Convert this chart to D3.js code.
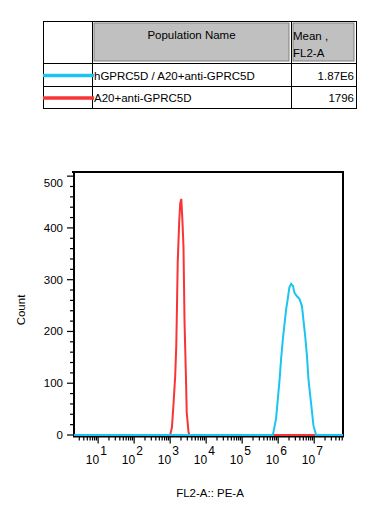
<!DOCTYPE html>
<html><head><meta charset="utf-8">
<script src="https://cdn.jsdelivr.net/npm/d3@7"></script>
<style>body{margin:0;background:#fff}svg{display:block;font-family:"Liberation Sans",Arial,sans-serif}</style>
</head><body><svg id="c" width="387" height="517"></svg>
<script>
// ---- data ----
const populations = ["hGPRC5D / A20+anti-GPRC5D", "A20+anti-GPRC5D"];
const means = ["1.87E6", "1796"];
const colors = ["#1cc4f0", "#f83434"];
const yTicks = [0, 100, 200, 300, 400, 500];
const xDecades = [1, 2, 3, 4, 5, 6, 7];
// histogram samples: log10(FL2-A) and count
const redLog =   [0.33, 3.00, 3.05, 3.09, 3.14, 3.17, 3.19, 3.21, 3.25, 3.28, 3.31, 3.34, 3.37, 3.40, 3.44, 3.46, 3.51, 3.53, 7.80];
const redCount = [0,    0,    15,   56,   114,  172,  249,  333,  410,  448,  456,  415,  364,  217,  108,  44,   6,    0,    0];
const blueLog =   [0.33, 5.85, 5.87, 5.94, 5.99, 6.04, 6.08, 6.13, 6.18, 6.22, 6.27, 6.31, 6.36, 6.41, 6.45, 6.52, 6.59, 6.66, 6.70, 6.75, 6.80, 6.84, 6.89, 6.94, 6.98, 7.03, 7.05, 7.80];
const blueCount = [0,    0,    6,    31,   69,   108,  146,  185,  217,  242,  265,  285,  292,  288,  275,  268,  263,  249,  223,  191,  152,  108,  76,   44,   18,   6,    0,    0];

const svg = d3.select("#c");

// ---- legend table ----
const T = {x0: 43, x1: 92, x2: 291, x3: 356, y0: 21, y1: 63, y2: 86, y3: 108};
svg.append("rect").attr("x", T.x1 + 2).attr("y", T.y0 + 2).attr("width", T.x2 - T.x1 - 4).attr("height", T.y1 - T.y0 - 4)
  .attr("fill", "#c0c0c0").attr("stroke", "#808080").attr("stroke-width", 1);
svg.append("rect").attr("x", T.x2 + 2).attr("y", T.y0 + 2).attr("width", T.x3 - T.x2 - 4).attr("height", T.y1 - T.y0 - 4)
  .attr("fill", "#c0c0c0").attr("stroke", "#808080").attr("stroke-width", 1);
const tl = svg.append("g").attr("stroke", "#000").attr("stroke-width", 1).attr("fill", "none");
tl.append("rect").attr("x", T.x0 + 0.5).attr("y", T.y0 + 0.5).attr("width", T.x3 - T.x0).attr("height", T.y3 - T.y0);
[T.y1, T.y2].forEach(y => tl.append("line").attr("x1", T.x0).attr("x2", T.x3).attr("y1", y + 0.5).attr("y2", y + 0.5));
[T.x1, T.x2].forEach(x => tl.append("line").attr("x1", x + 0.5).attr("x2", x + 0.5).attr("y1", T.y0).attr("y2", T.y3));
svg.append("text").attr("x", (T.x1 + T.x2) / 2).attr("y", 39).attr("text-anchor", "middle").attr("font-size", 11.5).text("Population Name");
svg.append("text").attr("x", T.x2 + 2).attr("y", 40).attr("font-size", 11.5).text("Mean ,");
svg.append("text").attr("x", T.x2 + 2).attr("y", 57).attr("font-size", 11.5).text("FL2-A");
const rowY = [(T.y1 + T.y2) / 2, (T.y2 + T.y3) / 2];
populations.forEach((p, i) => {
  svg.append("line").attr("x1", T.x0).attr("x2", T.x1 + 2).attr("y1", rowY[i] + 1).attr("y2", rowY[i] + 1)
    .attr("stroke", colors[i]).attr("stroke-width", 3.5);
  svg.append("text").attr("x", T.x1 + 2).attr("y", rowY[i] + 5).attr("font-size", 11.5).text(p);
  svg.append("text").attr("x", T.x3 - 2).attr("y", rowY[i] + 5).attr("font-size", 11.5).attr("text-anchor", "end").text(means[i]);
});

// ---- chart ----
const P = {l: 74, r: 343, t: 172, b: 436.5};
const x = d3.scaleLog().domain([Math.pow(10, 0.33), Math.pow(10, 7.8)]).range([P.l, P.r]);
const y = d3.scaleLinear().domain([0, 508]).range([435, P.t]);

// frame
svg.append("rect").attr("x", P.l).attr("y", P.t).attr("width", P.r - P.l).attr("height", P.b - P.t)
  .attr("fill", "none").attr("stroke", "#000").attr("stroke-width", 2);
svg.append("line").attr("x1", P.l - 2).attr("x2", P.l).attr("y1", P.t).attr("y2", P.t).attr("stroke", "#000").attr("stroke-width", 2);

// y ticks
const yt = svg.append("g").attr("stroke", "#000").attr("stroke-width", 1.2);
d3.range(0, 501, 20).forEach(v => {
  const major = v % 100 === 0;
  yt.append("line").attr("x1", P.l - (major ? 7 : 4)).attr("x2", P.l).attr("y1", y(v)).attr("y2", y(v));
});
yTicks.forEach(v => {
  svg.append("text").attr("x", 63).attr("y", Math.max(y(v), 183) + 4).attr("text-anchor", "end").attr("font-size", 11.5).text(v);
});

// x ticks
const xt = svg.append("g").attr("stroke", "#000").attr("stroke-width", 1.2);
for (let d = 0; d <= 7; d++) {
  for (let k = 1; k <= 9; k++) {
    const v = k * Math.pow(10, d);
    if (v < x.domain()[0] || v > x.domain()[1]) continue;
    const len = k === 1 ? 7 : 4;
    xt.append("line").attr("x1", x(v)).attr("x2", x(v)).attr("y1", P.b).attr("y2", P.b + len);
  }
}
xDecades.forEach(d => {
  const px = x(Math.pow(10, d));
  svg.append("text").attr("x", px + 1).attr("y", 464).attr("text-anchor", "end").attr("font-size", 12).text("10");
  svg.append("text").attr("x", px + 2).attr("y", 455).attr("font-size", 12).text(d);
});

// histograms (drawn over the axis line)
const line = d3.line().x(d => x(Math.pow(10, d[0]))).y(d => y(d[1])).curve(d3.curveLinear);
svg.append("path").datum(redLog.map((v, i) => [v, redCount[i]])).attr("d", line)
  .attr("fill", "none").attr("stroke", colors[1]).attr("stroke-width", 2);
svg.append("path").datum(blueLog.map((v, i) => [v, blueCount[i]])).attr("d", line)
  .attr("fill", "none").attr("stroke", colors[0]).attr("stroke-width", 2);

// axis titles
svg.append("text").attr("transform", "translate(25,310) rotate(-90)").attr("text-anchor", "middle").attr("font-size", 11.5).text("Count");
svg.append("text").attr("x", 210).attr("y", 497).attr("text-anchor", "middle").attr("font-size", 11.5).text("FL2-A:: PE-A");
</script></body></html>
